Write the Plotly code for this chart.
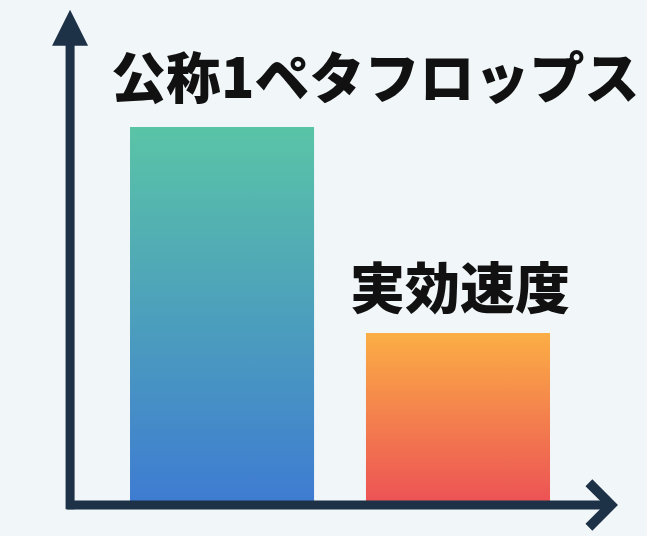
import plotly.graph_objects as go

categories = ["公称1ペタフロップス", "実効速度"]
values = [1.0, 0.455]
top_colors = ["#5AC4A6", "#FBAE45"]
bottom_colors = ["#3E7BD2", "#EC5155"]

BAR_HALF = 0.39
AXIS_COLOR = "#1D3147"
BG = "#F1F6F8"

fig = go.Figure()

for i, (cat, v) in enumerate(zip(categories, values)):
    xs = [i - BAR_HALF, i + BAR_HALF, i + BAR_HALF, i - BAR_HALF, i - BAR_HALF]
    ys = [0, 0, v, v, 0]
    fig.add_trace(go.Scatter(
        x=xs, y=ys, mode="lines", fill="toself",
        line=dict(width=0, color=top_colors[i]),
        fillgradient=dict(
            type="vertical",
            colorscale=[[0, bottom_colors[i]], [1, top_colors[i]]],
            start=0, stop=v,
        ),
        hoverinfo="skip", showlegend=False, name=cat,
    ))

# bar labels
label_pos = [(0.652, 1.140), (1.008, 0.585)]
for cat, (lx, ly) in zip(categories, label_pos):
    fig.add_annotation(
        x=lx, y=ly, xref="x", yref="y", text=cat, showarrow=False,
        font=dict(family="Noto Sans CJK JP", size=55, color="#111111", weight=900),
        xanchor="center", yanchor="middle",
    )

# axes with arrows
x0, y0 = -0.644, 0.0
fig.add_annotation(x=x0, y=1.31, ax=x0, ay=-0.015, xref="x", yref="y", axref="x", ayref="y",
                   showarrow=True, arrowhead=2, arrowsize=0.8, arrowwidth=9, arrowcolor=AXIS_COLOR, text="")
fig.add_annotation(x=1.678, y=y0, ax=x0 - 0.02, ay=y0, xref="x", yref="y", axref="x", ayref="y",
                   showarrow=True, arrowhead=4, arrowsize=0.95, arrowwidth=9, arrowcolor=AXIS_COLOR, text="")

fig.update_layout(
    width=647, height=536,
    margin=dict(l=0, r=0, t=0, b=0),
    paper_bgcolor=BG, plot_bgcolor=BG,
    xaxis=dict(range=[-0.941, 1.801], visible=False, fixedrange=True),
    yaxis=dict(range=[-0.082, 1.336], visible=False, fixedrange=True),
    showlegend=False,
)

fig.write_html("out.html")
